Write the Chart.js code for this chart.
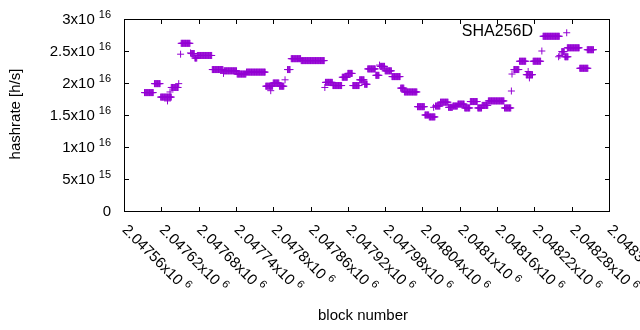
<!DOCTYPE html>
<html><head><meta charset="utf-8">
<script src="https://cdn.jsdelivr.net/npm/chart.js@4"></script>
<style>html,body{margin:0;padding:0;background:#fff}canvas{display:block}</style>
</head><body>
<canvas id="c" width="640" height="330"></canvas>
<script>
// Runs of consecutive blocks sharing the same hashrate value
const runFirst = [2047593,2047609,2047619,2047630,2047634,2047636,2047648,2047651,2047652,2047667,2047668,2047674,2047678,2047702,2047720,2047721,2047742,2047757,2047788,2047796,2047800,2047810,2047819,2047823,2047829,2047845,2047883,2047884,2047896,2047911,2047920,2047928,2047939,2047947,2047952,2047965,2047971,2047972,2047980,2047991,2048005,2048011,2048032,2048044,2048051,2048058,2048061,2048069,2048082,2048089,2048097,2048108,2048117,2048129,2048136,2048146,2048172,2048183,2048184,2048187,2048196,2048207,2048210,2048211,2048212,2048218,2048232,2048234,2048259,2048261,2048264,2048269,2048272,2048273,2048293,2048305];
const runLast  = [2047607,2047618,2047636,2047630,2047634,2047647,2047648,2047651,2047666,2047667,2047673,2047677,2047701,2047719,2047720,2047741,2047756,2047787,2047799,2047796,2047809,2047817,2047819,2047827,2047844,2047882,2047883,2047895,2047910,2047919,2047927,2047938,2047946,2047951,2047964,2047970,2047971,2047979,2047990,2048004,2048010,2048031,2048043,2048050,2048060,2048058,2048068,2048081,2048088,2048096,2048107,2048116,2048128,2048135,2048145,2048171,2048182,2048183,2048184,2048195,2048206,2048209,2048210,2048217,2048212,2048230,2048232,2048260,2048259,2048261,2048268,2048274,2048272,2048292,2048306,2048315];
const runValue = [1.85e16,1.99e16,1.78e16,1.72e16,1.86e16,1.93e16,1.99e16,2.45e16,2.62e16,2.47e16,2.46e16,2.39e16,2.43e16,2.21e16,2.15e16,2.19e16,2.14e16,2.17e16,1.95e16,1.88e16,2.00e16,1.95e16,2.05e16,2.21e16,2.38e16,2.35e16,1.93e16,2.01e16,1.96e16,2.09e16,2.15e16,1.96e16,2.05e16,1.98e16,2.22e16,2.12e16,2.28e16,2.26e16,2.19e16,2.10e16,1.92e16,1.86e16,1.63e16,1.50e16,1.47e16,1.62e16,1.64e16,1.70e16,1.62e16,1.64e16,1.67e16,1.61e16,1.71e16,1.61e16,1.65e16,1.72e16,1.61e16,1.875e16,2.14e16,2.21e16,2.34e16,2.13e16,2.18e16,2.13e16,2.08e16,2.34e16,2.50e16,2.73e16,2.41e16,2.43e16,2.49e16,2.41e16,2.785e16,2.55e16,2.23e16,2.52e16];

const xTickValues = [2047560,2047620,2047680,2047740,2047800,2047860,2047920,2047980,2048040,2048100,2048160,2048220,2048280,2048340];
const xTickMain = ['2.04756x10','2.04762x10','2.04768x10','2.04774x10','2.0478x10','2.04786x10','2.04792x10','2.04798x10','2.04804x10','2.0481x10','2.04816x10','2.04822x10','2.04828x10','2.04834x10'];
const xTickExp = ['6','6','6','6','6','6','6','6','6','6','6','6','6','6'];
const yTickValues = [0,5e15,1e16,1.5e16,2e16,2.5e16,3e16];
const yTickMain = ['0','5x10','1x10','1.5x10','2x10','2.5x10','3x10'];
const yTickExp = ['','15','16','16','16','16','16'];
const seriesLabel = 'SHA256D';
const xTitle = 'block number';
const yTitle = 'hashrate [h/s]';

const points = [];
for (let i = 0; i < runFirst.length; i++) {
  for (let b = runFirst[i]; b <= runLast[i]; b++) points.push({x: b, y: runValue[i]});
}

const FONT = '"Liberation Sans", Arial, sans-serif';
const MAIN = 15, SUP = 11;

const decor = {
  id: 'decor',
  afterDraw(chart) {
    const ctx = chart.ctx, a = chart.chartArea, xs = chart.scales.x, ys = chart.scales.y;
    ctx.save();
    ctx.strokeStyle = '#000'; ctx.lineWidth = 1;
    ctx.strokeRect(a.left + 0.5, a.top + 0.5, a.right - a.left, a.bottom - a.top);
    const T = 5;
    ctx.beginPath();
    yTickValues.forEach(v => {
      const p = Math.round(ys.getPixelForValue(v)) + 0.5;
      ctx.moveTo(a.left, p); ctx.lineTo(a.left + T, p);
      ctx.moveTo(a.right + 1, p); ctx.lineTo(a.right + 1 - T, p);
    });
    xTickValues.forEach(v => {
      const p = Math.round(xs.getPixelForValue(v)) + 0.5;
      ctx.moveTo(p, a.bottom + 1); ctx.lineTo(p, a.bottom + 1 - T);
      ctx.moveTo(p, a.top); ctx.lineTo(p, a.top + T);
    });
    ctx.stroke();
    ctx.fillStyle = '#000';
    // y tick labels
    yTickValues.forEach((v, i) => {
      const p = ys.getPixelForValue(v);
      const rx = 111;
      ctx.textAlign = 'right'; ctx.textBaseline = 'alphabetic';
      let x = rx;
      if (yTickExp[i]) {
        ctx.font = SUP + 'px ' + FONT;
        ctx.fillText(yTickExp[i], x, p - 1);
        x -= ctx.measureText(yTickExp[i]).width + 4;
      }
      ctx.font = MAIN + 'px ' + FONT;
      ctx.fillText(yTickMain[i], x, p + 5);
    });
    // x tick labels, rotated
    xTickValues.forEach((v, i) => {
      const p = xs.getPixelForValue(v);
      ctx.save();
      ctx.translate(p + 1, a.bottom + 16);
      ctx.rotate(Math.PI / 4);
      ctx.textAlign = 'left'; ctx.textBaseline = 'alphabetic';
      ctx.font = MAIN + 'px ' + FONT;
      ctx.fillText(xTickMain[i], 0, 5);
      const w = ctx.measureText(xTickMain[i]).width;
      ctx.font = SUP + 'px ' + FONT;
      ctx.fillText(xTickExp[i], w + 4, -1);
      ctx.restore();
    });
    // axis titles
    ctx.font = MAIN + 'px ' + FONT;
    ctx.textAlign = 'center'; ctx.textBaseline = 'middle';
    ctx.fillText(xTitle, 363, 316);
    ctx.save();
    ctx.translate(16, 114);
    ctx.rotate(-Math.PI / 2);
    ctx.fillText(yTitle, 0, 0);
    ctx.restore();
    // key
    ctx.font = '16px ' + FONT;
    ctx.textAlign = 'right';
    ctx.fillText(seriesLabel, 533, 32);
    ctx.restore();
  }
};

new Chart(document.getElementById('c'), {
  type: 'scatter',
  data: { datasets: [{
    label: seriesLabel,
    data: points,
    showLine: false,
    pointStyle: 'cross',
    pointRadius: 3.5,
    pointHoverRadius: 3.5,
    pointBorderWidth: 1,
    borderColor: '#9400D3',
    backgroundColor: '#9400D3'
  }]},
  options: {
    responsive: false,
    animation: false,
    devicePixelRatio: 1,
    events: [],
    layout: { padding: { left: 0, right: 31, top: 19, bottom: 0 } },
    plugins: { legend: { display: false }, tooltip: { enabled: false } },
    scales: {
      x: {
        type: 'linear', min: 2047560, max: 2048340,
        ticks: { display: false, stepSize: 60 },
        grid: { display: false }, border: { display: false },
        afterFit(s) { s.height = 119; }
      },
      y: {
        type: 'linear', min: 0, max: 3e16,
        ticks: { display: false, stepSize: 5e15 },
        grid: { display: false }, border: { display: false },
        afterFit(s) { s.width = 124; }
      }
    }
  },
  plugins: [decor]
});
</script>
</body></html>
